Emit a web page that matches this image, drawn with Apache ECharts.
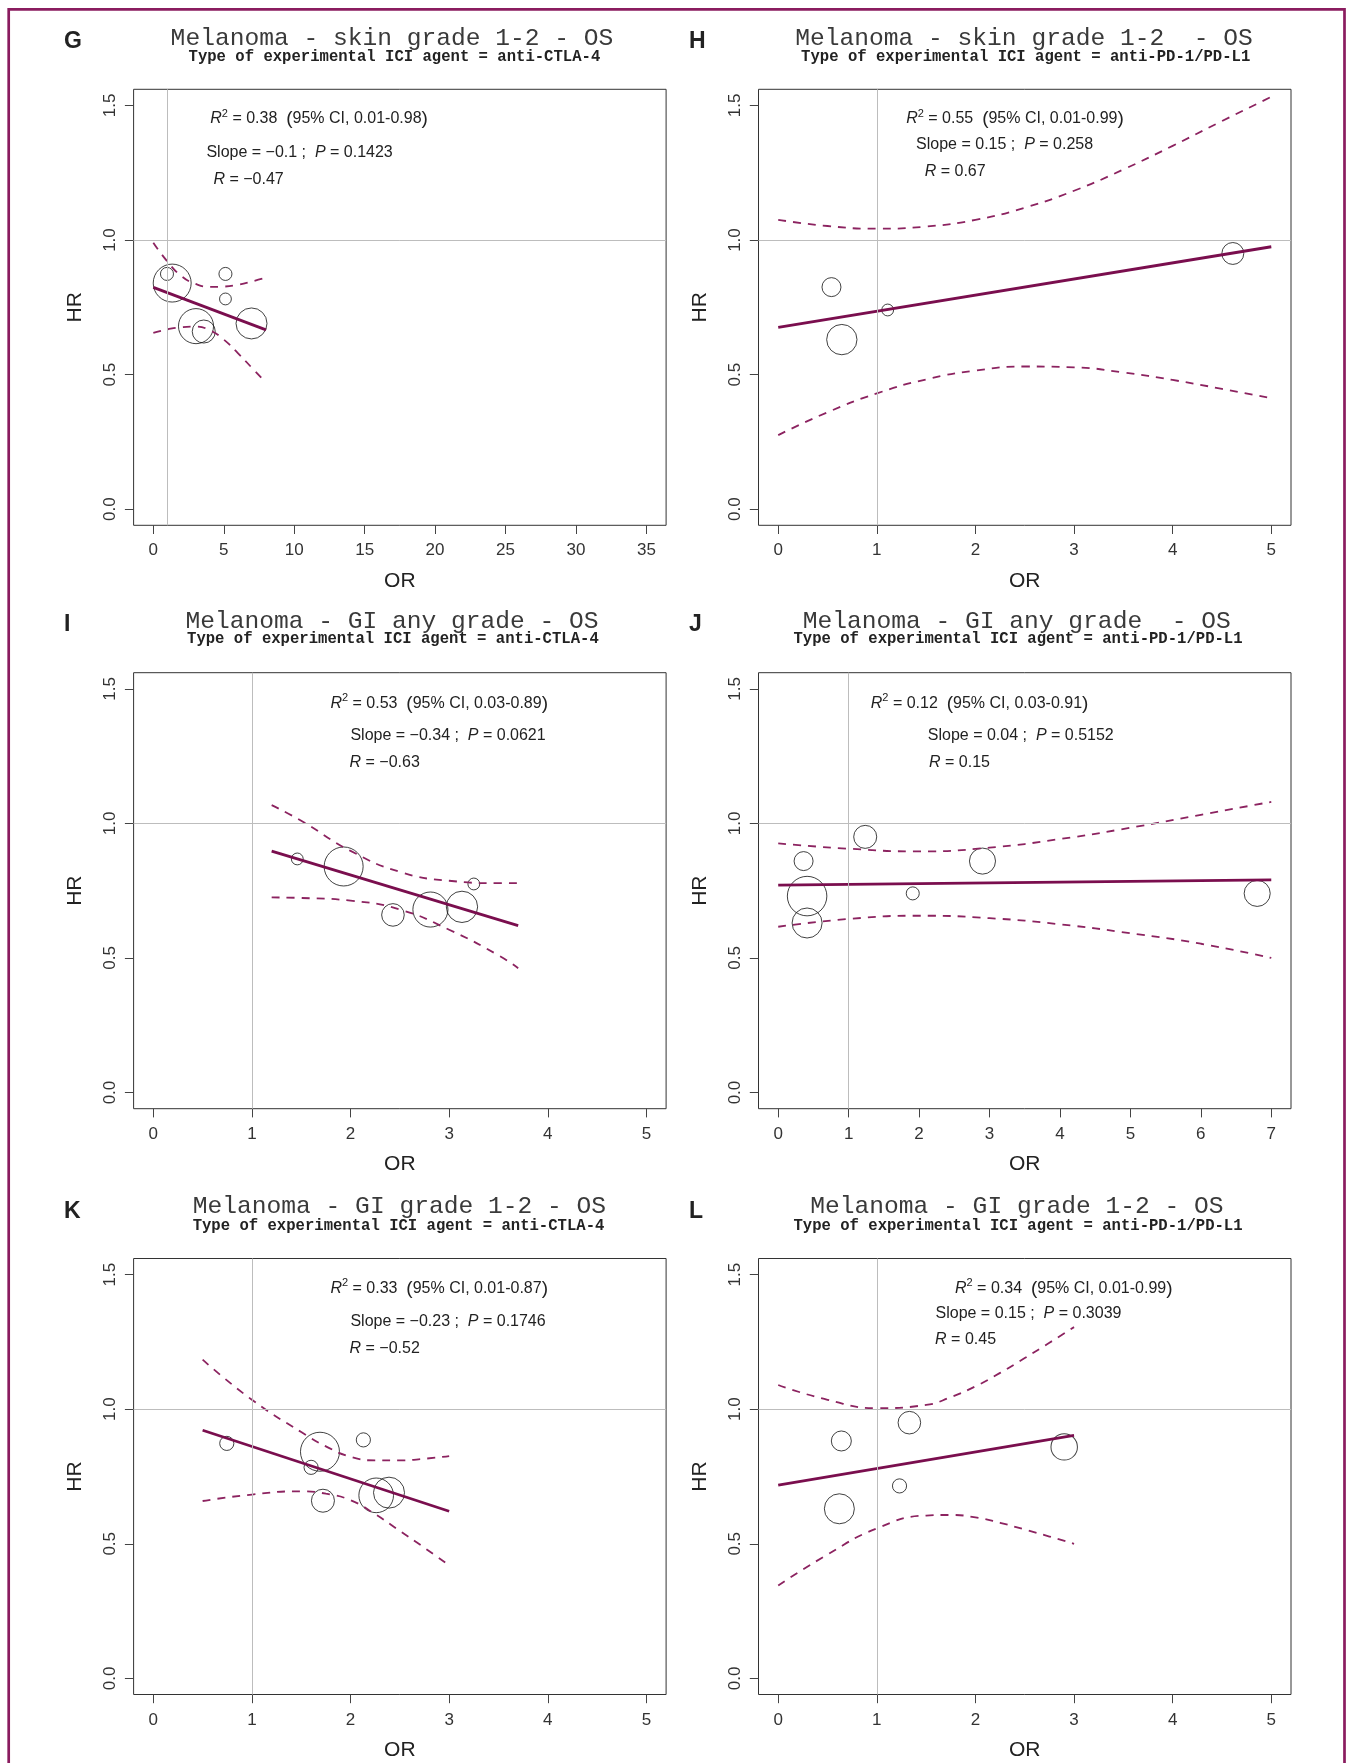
<!DOCTYPE html>
<html><head><meta charset="utf-8">
<script src="https://cdn.jsdelivr.net/npm/echarts@6/dist/echarts.min.js"></script>
<style>html,body{margin:0;padding:0;background:#fff}#c{width:1347px;height:1763px}</style>
</head><body><div id="c"></div>
<script>
// ---------------- DATA ----------------
// Panel G
const gOR = [0.97, 1.34, 5.12, 5.12, 3.03, 3.58, 6.97];
const gHR = [0.874, 0.84, 0.874, 0.781, 0.68, 0.66, 0.69];
const gWeight = [1.7, 14.4, 1.7, 1.4, 12.3, 5.3, 9.6];
const gFitOR = [0, 8];
const gFitHR = [0.824, 0.666];
const gCiOR = [0, 1, 2, 3, 4, 5, 6, 7, 8];
const gCiUpper = [0.99, 0.92, 0.866, 0.837, 0.826, 0.827, 0.834, 0.846, 0.86];
const gCiLower = [0.655, 0.668, 0.676, 0.678, 0.665, 0.63, 0.58, 0.525, 0.47];
// Panel H
const hOR = [4.61, 0.54, 1.11, 0.645];
const hHR = [0.95, 0.825, 0.74, 0.63];
const hWeight = [4.8, 3.6, 1.4, 9.2];
const hFitOR = [0, 5];
const hFitHR = [0.675, 0.975];
const hCiOR = [0, 0.5, 1, 1.5, 2, 2.5, 3, 3.5, 4, 4.5, 5];
const hCiUpper = [1.075, 1.052, 1.042, 1.05, 1.075, 1.12, 1.183, 1.262, 1.35, 1.442, 1.532];
const hCiLower = [0.275, 0.36, 0.43, 0.482, 0.515, 0.53, 0.527, 0.508, 0.48, 0.447, 0.412];
// Panel I
const iOR = [1.46, 1.93, 3.25, 2.43, 2.81, 3.13];
const iHR = [0.868, 0.84, 0.775, 0.66, 0.68, 0.69];
const iWeight = [1.4, 15.2, 1.4, 5.1, 12.3, 9.8];
const iFitOR = [1.2, 3.7];
const iFitHR = [0.897, 0.62];
const iCiOR = [1.2, 1.5, 2, 2.5, 3, 3.5, 3.7];
const iCiUpper = [1.068, 1.01, 0.898, 0.82, 0.787, 0.778, 0.778];
const iCiLower = [0.725, 0.723, 0.713, 0.68, 0.605, 0.51, 0.462];
// Panel J
const jOR = [1.235, 0.36, 2.9, 0.41, 1.91, 6.8, 0.41];
const jHR = [0.95, 0.86, 0.86, 0.73, 0.74, 0.74, 0.63];
const jWeight = [5.3, 3.6, 6.8, 15.6, 1.7, 6.8, 9.0];
const jFitOR = [0, 7];
const jFitHR = [0.771, 0.79];
const jCiOR = [0, 1, 2, 3, 4, 5, 6, 7];
const jCiUpper = [0.926, 0.906, 0.896, 0.91, 0.942, 0.984, 1.032, 1.08];
const jCiLower = [0.616, 0.645, 0.657, 0.648, 0.625, 0.592, 0.553, 0.5];
// Panel K
const kOR = [0.745, 1.69, 2.13, 1.6, 1.72, 2.26, 2.39];
const kHR = [0.873, 0.842, 0.886, 0.784, 0.66, 0.68, 0.69];
const kWeight = [2.0, 15.2, 2.0, 2.0, 5.3, 12.0, 9.6];
const kFitOR = [0.5, 3.0];
const kFitHR = [0.922, 0.621];
const kCiOR = [0.5, 1, 1.5, 1.75, 2, 2.25, 2.5, 2.75, 3];
const kCiUpper = [1.184, 1.035, 0.915, 0.862, 0.823, 0.81, 0.81, 0.816, 0.826];
const kCiLower = [0.659, 0.683, 0.695, 0.686, 0.662, 0.61, 0.548, 0.485, 0.42];
// Panel L
const lOR = [1.33, 0.64, 2.9, 1.23, 0.62];
const lHR = [0.95, 0.882, 0.86, 0.715, 0.63];
const lWeight = [5.1, 4.0, 7.0, 2.0, 9.0];
const lFitOR = [0, 3];
const lFitHR = [0.718, 0.903];
const lCiOR = [0, 0.5, 1, 1.5, 1.75, 2, 2.25, 2.5, 2.75, 3];
const lCiUpper = [1.09, 1.035, 1.004, 1.016, 1.045, 1.085, 1.135, 1.19, 1.247, 1.305];
const lCiLower = [0.345, 0.46, 0.557, 0.605, 0.607, 0.598, 0.578, 0.553, 0.527, 0.50];

// reference values and ticks
const REF_OR = 1, REF_HR = 1;
const xTicks35 = [0, 5, 10, 15, 20, 25, 30, 35];
const xTicks5 = [0, 1, 2, 3, 4, 5];
const xTicks7 = [0, 1, 2, 3, 4, 5, 6, 7];
const yTicks = [0, 0.5, 1.0, 1.5];

// texts
const letters = ['G', 'H', 'I', 'J', 'K', 'L'];
const titleTexts = ['Melanoma - skin grade 1-2 - OS', 'Melanoma - skin grade 1-2  - OS',
  'Melanoma - GI any grade - OS', 'Melanoma - GI any grade  - OS',
  'Melanoma - GI grade 1-2 - OS', 'Melanoma - GI grade 1-2 - OS'];
const subtitleTexts = ['Type of experimental ICI agent = anti-CTLA-4', 'Type of experimental ICI agent = anti-PD-1/PD-L1',
  'Type of experimental ICI agent = anti-CTLA-4', 'Type of experimental ICI agent = anti-PD-1/PD-L1',
  'Type of experimental ICI agent = anti-CTLA-4', 'Type of experimental ICI agent = anti-PD-1/PD-L1'];
const r2Vals = ['0.38', '0.55', '0.53', '0.12', '0.33', '0.34'];
const r2CI = ['0.01-0.98', '0.01-0.99', '0.03-0.89', '0.03-0.91', '0.01-0.87', '0.01-0.99'];
const slopeVals = ['\u22120.1', '0.15', '\u22120.34', '0.04', '\u22120.23', '0.15'];
const pVals = ['0.1423', '0.258', '0.0621', '0.5152', '0.1746', '0.3039'];
const rVals = ['\u22120.47', '0.67', '\u22120.63', '0.15', '\u22120.52', '0.45'];

// ---------------- LAYOUT / STYLE ----------------
const SANS = "'Liberation Sans', Arial, Helvetica, sans-serif";
const MONO = "'Liberation Mono', 'Courier New', Courier, monospace";
const FIT_COLOR = '#7a0e4e';
const CI_COLOR = '#8c2360';
const FRAME_COLOR = '#8a1c5f';

const panels = [
  {or: gOR, hr: gHR, w: gWeight, fx: gFitOR, fy: gFitHR, cx: gCiOR, cu: gCiUpper, cl: gCiLower, ticks: xTicks35, xMin: -1.4, xMax: 36.4,
   grid: {left: 133.6, top: 89.3}, title: [392, 38.3], sub: [394.4, 56.7], letter: [64, 41.7],
   ann: [[210.3, 119], [206.4, 152.7], [213.4, 179.3]]},
  {or: hOR, hr: hHR, w: hWeight, fx: hFitOR, fy: hFitHR, cx: hCiOR, cu: hCiUpper, cl: hCiLower, ticks: xTicks5, xMin: -0.2, xMax: 5.2,
   grid: {left: 758.5, top: 89.3}, title: [1024, 38.3], sub: [1025.7, 56.7], letter: [689, 41.7],
   ann: [[906.2, 119], [916.1, 145], [924.7, 171.7]]},
  {or: iOR, hr: iHR, w: iWeight, fx: iFitOR, fy: iFitHR, cx: iCiOR, cu: iCiUpper, cl: iCiLower, ticks: xTicks5, xMin: -0.2, xMax: 5.2,
   grid: {left: 133.6, top: 672.7}, title: [392, 621.7], sub: [392.9, 639.3], letter: [64, 625],
   ann: [[330.4, 703.3], [350.4, 735.7], [349.5, 762.7]]},
  {or: jOR, hr: jHR, w: jWeight, fx: jFitOR, fy: jFitHR, cx: jCiOR, cu: jCiUpper, cl: jCiLower, ticks: xTicks7, xMin: -0.28, xMax: 7.28,
   grid: {left: 758.5, top: 672.7}, title: [1016.7, 621.7], sub: [1018, 639.3], letter: [689, 625],
   ann: [[870.8, 703.3], [927.8, 735.7], [929, 762.7]]},
  {or: kOR, hr: kHR, w: kWeight, fx: kFitOR, fy: kFitHR, cx: kCiOR, cu: kCiUpper, cl: kCiLower, ticks: xTicks5, xMin: -0.2, xMax: 5.2,
   grid: {left: 133.6, top: 1258.5}, title: [399.4, 1206.7], sub: [398.5, 1225.7], letter: [64, 1211.7],
   ann: [[330.4, 1288.3], [350.4, 1321.7], [349.5, 1348.3]]},
  {or: lOR, hr: lHR, w: lWeight, fx: lFitOR, fy: lFitHR, cx: lCiOR, cu: lCiUpper, cl: lCiLower, ticks: xTicks5, xMin: -0.2, xMax: 5.2,
   grid: {left: 758.5, top: 1258.5}, title: [1016.9, 1206.7], sub: [1018, 1225.7], letter: [689, 1211.7],
   ann: [[955, 1288.3], [935.5, 1313.3], [935.1, 1339.3]]}
];

const grids = [], xAxes = [], yAxes = [], series = [], graphics = [];

graphics.push({type: 'rect', shape: {x: 8.7, y: 9.3, width: 1335.8, height: 1820}, style: {fill: 'none', stroke: FRAME_COLOR, lineWidth: 2.7}, silent: true});

function txt(x, y, text, font, fill, align) {
  return {type: 'text', x: x, y: y, silent: true,
    style: {text: text, font: font, fill: fill, align: align || 'center', verticalAlign: 'middle', textAlign: align || 'center', textVerticalAlign: 'middle'}};
}
const rich = {
  i: {fontFamily: SANS, fontSize: 16, fontStyle: 'italic', fill: '#222', color: '#222', lineHeight: 22},
  n: {fontFamily: SANS, fontSize: 16, fill: '#222', color: '#222', lineHeight: 22},
  s: {fontFamily: SANS, fontSize: 11, fill: '#222', color: '#222', lineHeight: 11, verticalAlign: 'top'},
  p: {fontFamily: SANS, fontSize: 19, fill: '#222', color: '#222', lineHeight: 22}
};
function richTxt(x, y, text) {
  return {type: 'text', x: x, y: y, silent: true,
    style: {text: text, rich: rich, align: 'left', verticalAlign: 'middle', textAlign: 'left', textVerticalAlign: 'middle', font: '16px ' + SANS, fill: '#222'}};
}

panels.forEach(function (p, i) {
  grids.push({left: p.grid.left, top: p.grid.top, width: 532.5, height: 436, show: true, borderColor: '#333', borderWidth: 1,
    backgroundColor: 'transparent', containLabel: false, outerBoundsMode: 'none'});
  xAxes.push({type: 'value', gridIndex: i, min: p.xMin, max: p.xMax,
    axisLine: {show: false, onZero: false}, splitLine: {show: false},
    axisTick: {show: true, inside: false, length: 8.7, customValues: p.ticks, lineStyle: {color: '#444', width: 1}},
    axisLabel: {customValues: p.ticks, fontSize: 17, fontFamily: SANS, color: '#333', margin: 17, formatter: function (v) { return String(v); }},
    name: 'OR', nameLocation: 'middle', nameGap: 45, nameTextStyle: {fontSize: 21, fontFamily: SANS, color: '#222'}});
  yAxes.push({type: 'value', gridIndex: i, min: -0.06, max: 1.56,
    axisLine: {show: false, onZero: false}, splitLine: {show: false},
    axisTick: {show: true, inside: false, length: 8.7, customValues: yTicks, lineStyle: {color: '#444', width: 1}},
    axisLabel: {customValues: yTicks, rotate: 90, fontSize: 17, fontFamily: SANS, color: '#333', margin: 15, formatter: function (v) { return v.toFixed(1); }},
    name: 'HR', nameLocation: 'middle', nameGap: 48, nameTextStyle: {fontSize: 21, fontFamily: SANS, color: '#222'}});

  series.push({type: 'scatter', xAxisIndex: i, yAxisIndex: i, z: 2, silent: true,
    data: p.or.map(function (v, k) { return [v, p.hr[k], p.w[k]]; }),
    symbol: 'circle', symbolSize: function (d) { return 10 * Math.sqrt(d[2]); },
    itemStyle: {color: 'rgba(0,0,0,0)', borderColor: '#111', borderWidth: 1},
    emphasis: {disabled: true},
    markLine: {silent: true, symbol: ['none', 'none'], label: {show: false}, animation: false,
      lineStyle: {color: '#bdbdbd', width: 1, type: 'solid'},
      data: [{xAxis: REF_OR}, {yAxis: REF_HR}]}});
  [p.cu, p.cl].forEach(function (arr) {
    series.push({type: 'line', xAxisIndex: i, yAxisIndex: i, z: 3, silent: true, showSymbol: false, symbol: 'none',
      smooth: 0.5,
      data: p.cx.map(function (x, k) { return [x, arr[k]]; }),
      lineStyle: {color: CI_COLOR, width: 1.8, type: [8, 7]}, emphasis: {disabled: true}});
  });
  series.push({type: 'line', xAxisIndex: i, yAxisIndex: i, z: 4, silent: true, showSymbol: false, symbol: 'none',
    data: p.fx.map(function (x, k) { return [x, p.fy[k]]; }),
    lineStyle: {color: FIT_COLOR, width: 2.8}, emphasis: {disabled: true}});

  graphics.push(txt(p.letter[0], p.letter[1], letters[i], 'bold 23px ' + SANS, '#222', 'left'));
  graphics.push(txt(p.title[0], p.title[1], titleTexts[i], '24.6px ' + MONO, '#3a3a3a', 'center'));
  graphics.push(txt(p.sub[0], p.sub[1], subtitleTexts[i], 'bold 15.6px ' + MONO, '#222', 'center'));
  graphics.push(richTxt(p.ann[0][0], p.ann[0][1], '{i|R}{s|2}{n| = ' + r2Vals[i] + '  }{p|(}{n|95% CI, ' + r2CI[i] + '}{p|)}'));
  graphics.push(richTxt(p.ann[1][0], p.ann[1][1], '{n|Slope = ' + slopeVals[i] + ' ;  }{i|P}{n| = ' + pVals[i] + '}'));
  graphics.push(richTxt(p.ann[2][0], p.ann[2][1], '{i|R}{n| = ' + rVals[i] + '}'));
});

const chart = echarts.init(document.getElementById('c'), null, {renderer: 'canvas'});
chart.setOption({
  animation: false,
  backgroundColor: '#fff',
  grid: grids, xAxis: xAxes, yAxis: yAxes, series: series,
  graphic: {elements: graphics}
});
</script></body></html>
